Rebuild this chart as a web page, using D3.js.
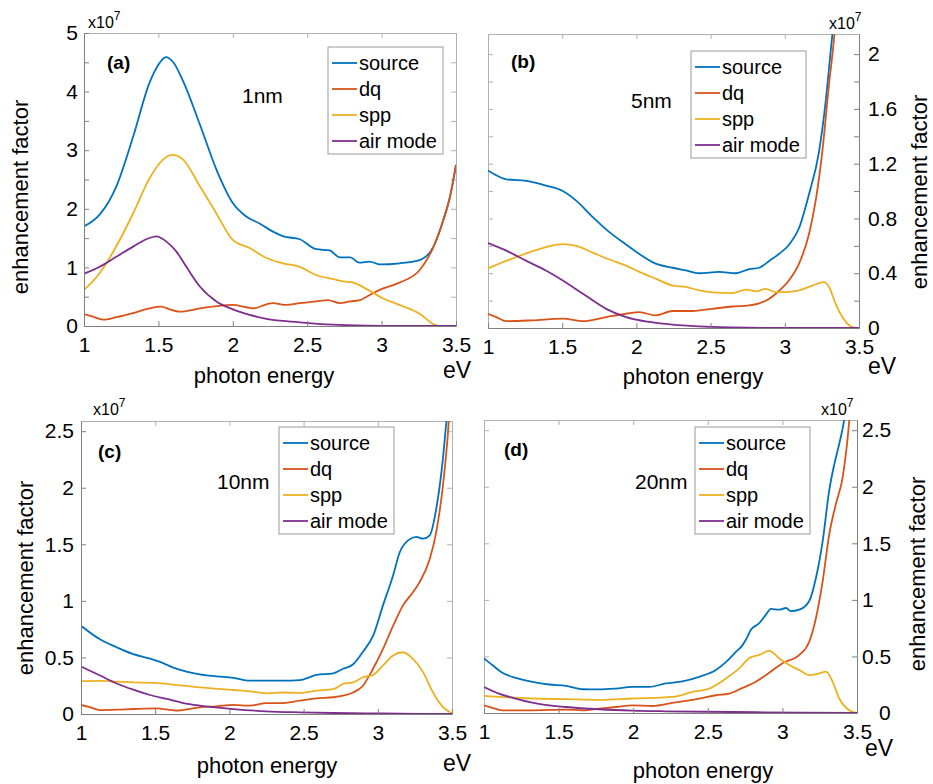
<!DOCTYPE html>
<html>
<head>
<meta charset="utf-8">
<script src="https://cdn.jsdelivr.net/npm/d3@7"></script>
<style>
  body { margin: 0; background: #fff; }
  text { font-family: "Liberation Sans", Arial, sans-serif; fill: #000; }
  .axis path, .axis line { stroke: #808080; }
  .frame path, .frame line { stroke: #b0b0b0; }
</style>
</head>
<body>
<svg id="fig" width="933" height="784"></svg>
<script>
// series names and MATLAB default colours
var seriesNames = ["source", "dq", "spp", "air mode"];
var seriesColors = ["#0072BD", "#D95319", "#EDB120", "#7E2F8E"];

// tick labels
var xLabels = [1, 1.5, 2, 2.5, 3, 3.5];
var yLabelsA = [0, 1, 2, 3, 4, 5];
var yLabelsB = [0, 0.4, 0.8, 1.2, 1.6, 2];
var yLabelsC = [0, 0.5, 1, 1.5, 2, 2.5];
var yLabelsD = [0, 0.5, 1, 1.5, 2, 2.5];

// (a) 1nm  [photon energy eV, enhancement x1e7]
var aSource = [[1.0,1.70],[1.105,1.90],[1.217,2.38],[1.33,3.23],[1.44,4.15],[1.50,4.46],[1.55,4.59],[1.60,4.50],[1.666,4.18],[1.78,3.43],[1.89,2.67],[2.0,2.10],[2.09,1.87],[2.18,1.75],[2.27,1.61],[2.34,1.53],[2.45,1.48],[2.56,1.31],[2.65,1.29],[2.72,1.17],[2.79,1.17],[2.85,1.08],[2.92,1.10],[2.99,1.05],[3.12,1.07],[3.26,1.13],[3.35,1.36],[3.415,1.81],[3.46,2.21],[3.5,2.75]];
var aDq = [[1.0,0.205],[1.06,0.16],[1.128,0.11],[1.217,0.15],[1.33,0.22],[1.44,0.30],[1.52,0.33],[1.576,0.285],[1.64,0.245],[1.78,0.30],[1.89,0.34],[2.0,0.36],[2.09,0.32],[2.137,0.30],[2.226,0.37],[2.27,0.39],[2.36,0.36],[2.45,0.39],[2.56,0.42],[2.64,0.44],[2.72,0.39],[2.79,0.42],[2.854,0.44],[2.90,0.50],[2.99,0.62],[3.12,0.74],[3.258,0.96],[3.35,1.36],[3.415,1.81],[3.46,2.21],[3.5,2.75]];
var aSpp = [[1.0,0.615],[1.105,0.90],[1.217,1.36],[1.33,1.92],[1.44,2.52],[1.531,2.84],[1.594,2.92],[1.666,2.84],[1.78,2.38],[1.89,1.92],[2.0,1.47],[2.114,1.33],[2.226,1.16],[2.339,1.07],[2.45,1.01],[2.56,0.87],[2.675,0.80],[2.742,0.76],[2.81,0.74],[2.90,0.63],[3.01,0.47],[3.12,0.36],[3.258,0.205],[3.35,0.03],[3.39,0],[3.5,0]];
var aAir = [[1.0,0.89],[1.105,1.01],[1.217,1.18],[1.33,1.355],[1.419,1.48],[1.487,1.53],[1.554,1.44],[1.621,1.27],[1.688,1.01],[1.78,0.67],[1.89,0.42],[2.0,0.285],[2.114,0.19],[2.226,0.12],[2.45,0.063],[2.675,0.023],[2.9,0.006],[3.12,0],[3.5,0]];

// (b) 5nm
var bSource = [[1.0,1.15],[1.123,1.086],[1.258,1.074],[1.39,1.04],[1.504,1.0],[1.594,0.93],[1.706,0.81],[1.818,0.70],[1.93,0.61],[2.02,0.54],[2.13,0.47],[2.244,0.44],[2.334,0.42],[2.424,0.40],[2.558,0.41],[2.67,0.40],[2.76,0.43],[2.827,0.44],[2.895,0.49],[2.96,0.54],[3.03,0.61],[3.096,0.73],[3.164,0.98],[3.231,1.29],[3.276,1.66],[3.309,2.02],[3.335,2.3]];
var bDq = [[1.0,0.104],[1.056,0.08],[1.123,0.05],[1.30,0.056],[1.504,0.068],[1.64,0.05],[1.796,0.08],[1.93,0.104],[2.02,0.116],[2.13,0.092],[2.244,0.124],[2.379,0.124],[2.51,0.14],[2.648,0.157],[2.76,0.165],[2.827,0.18],[2.895,0.213],[2.96,0.27],[3.03,0.35],[3.096,0.47],[3.164,0.69],[3.208,0.93],[3.253,1.29],[3.298,1.78],[3.332,2.12],[3.345,2.3]];
var bSpp = [[1.0,0.436],[1.123,0.49],[1.258,0.545],[1.39,0.59],[1.504,0.613],[1.594,0.60],[1.706,0.55],[1.818,0.50],[1.93,0.456],[2.02,0.41],[2.13,0.36],[2.244,0.31],[2.334,0.30],[2.424,0.274],[2.513,0.26],[2.648,0.255],[2.738,0.28],[2.805,0.268],[2.872,0.286],[2.94,0.262],[3.007,0.262],[3.096,0.275],[3.186,0.31],[3.265,0.335],[3.298,0.30],[3.343,0.177],[3.388,0.08],[3.455,0.007],[3.5,0]];
var bAir = [[1.0,0.62],[1.123,0.565],[1.258,0.49],[1.39,0.42],[1.504,0.347],[1.64,0.25],[1.796,0.14],[1.93,0.08],[2.09,0.044],[2.244,0.024],[2.424,0.012],[2.648,0.005],[3.1,0],[3.5,0]];

// (c) 10nm
var cSource = [[1.0,0.78],[1.128,0.66],[1.24,0.59],[1.352,0.53],[1.465,0.49],[1.532,0.46],[1.622,0.41],[1.711,0.375],[1.80,0.35],[1.913,0.333],[2.026,0.32],[2.138,0.295],[2.25,0.295],[2.362,0.295],[2.474,0.30],[2.587,0.345],[2.70,0.36],[2.766,0.40],[2.834,0.44],[2.90,0.55],[2.968,0.69],[3.035,0.96],[3.103,1.225],[3.148,1.43],[3.204,1.535],[3.26,1.565],[3.305,1.55],[3.35,1.58],[3.394,1.815],[3.439,2.26],[3.46,2.55],[3.473,2.7]];
var cDq = [[1.0,0.08],[1.06,0.06],[1.128,0.035],[1.24,0.038],[1.352,0.044],[1.51,0.05],[1.64,0.03],[1.80,0.059],[1.913,0.068],[2.026,0.08],[2.138,0.074],[2.25,0.097],[2.362,0.097],[2.474,0.118],[2.587,0.139],[2.70,0.148],[2.766,0.162],[2.834,0.19],[2.90,0.25],[2.968,0.40],[3.035,0.575],[3.103,0.78],[3.17,0.96],[3.237,1.077],[3.282,1.166],[3.35,1.37],[3.394,1.61],[3.439,2.02],[3.473,2.49],[3.484,2.7]];
var cSpp = [[1.0,0.29],[1.128,0.292],[1.24,0.286],[1.352,0.28],[1.51,0.275],[1.622,0.26],[1.80,0.236],[2.026,0.212],[2.138,0.20],[2.25,0.183],[2.362,0.19],[2.474,0.186],[2.587,0.207],[2.70,0.22],[2.766,0.266],[2.834,0.28],[2.90,0.325],[2.968,0.345],[3.035,0.43],[3.103,0.517],[3.17,0.546],[3.237,0.487],[3.305,0.37],[3.372,0.19],[3.44,0.06],[3.5,0.005]];
var cAir = [[1.0,0.42],[1.128,0.34],[1.24,0.27],[1.352,0.215],[1.465,0.168],[1.577,0.133],[1.689,0.097],[1.80,0.074],[2.026,0.044],[2.25,0.024],[2.474,0.015],[2.70,0.009],[2.92,0.006],[3.148,0.003],[3.5,0]];

// (d) 20nm
var dSource = [[1.0,0.483],[1.056,0.424],[1.123,0.356],[1.212,0.311],[1.324,0.276],[1.436,0.252],[1.548,0.24],[1.66,0.21],[1.771,0.208],[1.883,0.216],[1.995,0.231],[2.107,0.231],[2.219,0.261],[2.33,0.28],[2.442,0.32],[2.554,0.38],[2.621,0.45],[2.688,0.54],[2.733,0.60],[2.755,0.647],[2.789,0.735],[2.845,0.795],[2.89,0.87],[2.923,0.92],[2.979,0.913],[3.024,0.928],[3.057,0.90],[3.113,0.913],[3.18,0.99],[3.225,1.195],[3.27,1.52],[3.314,1.97],[3.348,2.20],[3.381,2.38],[3.415,2.6],[3.425,2.7]];
var dDq = [[1.0,0.068],[1.056,0.045],[1.123,0.024],[1.324,0.024],[1.548,0.03],[1.66,0.024],[1.771,0.039],[1.883,0.053],[1.995,0.068],[2.129,0.062],[2.263,0.089],[2.442,0.127],[2.554,0.157],[2.644,0.172],[2.733,0.222],[2.822,0.276],[2.89,0.335],[3.001,0.44],[3.113,0.513],[3.18,0.63],[3.225,0.84],[3.27,1.165],[3.314,1.58],[3.359,1.85],[3.404,2.085],[3.449,2.6],[3.455,2.7]];
var dSpp = [[1.0,0.151],[1.1,0.142],[1.324,0.128],[1.548,0.122],[1.771,0.116],[1.995,0.128],[2.263,0.142],[2.398,0.187],[2.51,0.216],[2.621,0.305],[2.71,0.394],[2.777,0.483],[2.845,0.513],[2.912,0.549],[2.979,0.483],[3.046,0.424],[3.113,0.38],[3.18,0.335],[3.247,0.35],[3.292,0.365],[3.337,0.276],[3.381,0.128],[3.449,0.024],[3.5,0]];
var dAir = [[1.0,0.23],[1.1,0.172],[1.212,0.128],[1.324,0.092],[1.436,0.068],[1.548,0.053],[1.771,0.033],[1.995,0.021],[2.219,0.015],[2.666,0.009],[3.113,0.003],[3.5,0]];

// panel layout
var panels = [
  { id: "a", tag: "(a)", size: "1nm", series: [aSource, aDq, aSpp, aAir], yLabels: yLabelsA, ymax: 5, ystep: 0.5,
    left: 84, right: 456, top: 33, bottom: 326, side: "left", pad: 6, zeroShift: 0,
    tagXY: [107, 69], sizeXY: [242, 103], legXY: [328, 47], expXY: [88, 28], eVXY: [443, 378],
    yTitle: [28, 197], xTitle: [264, 383] },
  { id: "b", tag: "(b)", size: "5nm", series: [bSource, bDq, bSpp, bAir], yLabels: yLabelsB, ymax: 2.147, ystep: 0.2,
    left: 488, right: 859, top: 34, bottom: 328, side: "right", pad: 9, zeroShift: 0,
    tagXY: [511, 68], sizeXY: [631, 108], legXY: [691, 51], expXY: [829, 29], eVXY: [868, 374],
    yTitle: [927, 192], xTitle: [693, 384] },
  { id: "c", tag: "(c)", size: "10nm", series: [cSource, cDq, cSpp, cAir], yLabels: yLabelsC, ymax: 2.59, ystep: 0.5,
    left: 81, right: 452, top: 421, bottom: 714, side: "left", pad: 7, zeroShift: 0,
    tagXY: [98, 458], sizeXY: [217, 489], legXY: [279, 427], expXY: [93, 415], eVXY: [443, 771],
    yTitle: [33, 578], xTitle: [267, 773] },
  { id: "d", tag: "(d)", size: "20nm", series: [dSource, dDq, dSpp, dAir], yLabels: yLabelsD, ymax: 2.59, ystep: 0.5,
    left: 484, right: 857, top: 420, bottom: 713, side: "right", pad: 5, zeroShift: 17,
    tagXY: [504, 456], sizeXY: [635, 489], legXY: [695, 427], expXY: [821, 415], eVXY: [865, 756],
    yTitle: [925, 574], xTitle: [703, 778] }
];

var svg = d3.select("#fig");
var fmt = d3.format("~g");

function styleAxis(g) {
  g.attr("font-family", null).attr("font-size", null);
  g.selectAll("text").attr("font-size", 21).style("fill", "#000");
}

panels.forEach(function (p) {
  var x = d3.scaleLinear().domain([1, 3.5]).range([p.left, p.right]);
  var y = d3.scaleLinear().domain([0, p.ymax]).range([p.bottom, p.top]);
  var yTicks = d3.range(0, p.ymax + 1e-6, p.ystep).map(function (v) { return Math.round(v * 100) / 100; });
  var isLabel = function (v) { return p.yLabels.some(function (l) { return Math.abs(l - v) < 1e-6; }); };

  var g = svg.append("g").attr("class", "panel-" + p.id);

  // frame sides (top and opposite) with inward ticks
  g.append("g").attr("class", "frame").attr("transform", "translate(0," + p.top + ")")
    .call(d3.axisTop(x).tickValues(xLabels).tickSize(-5).tickSizeOuter(0).tickFormat(""));
  var ySideFrame = p.side === "left" ? d3.axisRight(y) : d3.axisLeft(y);
  g.append("g").attr("class", "frame").attr("transform", "translate(" + (p.side === "left" ? p.right : p.left) + ",0)")
    .call(ySideFrame.tickValues(yTicks).tickSize(-5).tickSizeOuter(0).tickFormat(""));

  // clip for the curves
  g.append("clipPath").attr("id", "clip-" + p.id).append("rect")
    .attr("x", p.left).attr("y", p.top).attr("width", p.right - p.left).attr("height", p.bottom - p.top);

  var line = d3.line().curve(d3.curveMonotoneX)
    .x(function (d) { return x(d[0]); })
    .y(function (d) { return y(d[1]); });

  g.append("g").attr("clip-path", "url(#clip-" + p.id + ")")
    .selectAll("path").data(p.series).enter().append("path")
    .attr("d", line)
    .attr("fill", "none")
    .attr("stroke", function (d, i) { return seriesColors[i]; })
    .attr("stroke-width", 1.8);

  // main axes
  g.append("g").attr("class", "axis").attr("transform", "translate(0," + p.bottom + ")")
    .call(d3.axisBottom(x).tickValues(xLabels).tickSize(-5).tickSizeOuter(0).tickPadding(11).tickFormat(fmt))
    .call(styleAxis);
  var yAxis = p.side === "left" ? d3.axisLeft(y) : d3.axisRight(y);
  var yg = g.append("g").attr("class", "axis").attr("transform", "translate(" + (p.side === "left" ? p.left : p.right) + ",0)")
    .call(yAxis.tickValues(yTicks).tickSize(-5).tickSizeOuter(0).tickPadding(p.pad)
      .tickFormat(function (v) { return isLabel(v) ? fmt(v) : ""; }))
    .call(styleAxis);
  // zero label in (d) sits further right, clear of the x tick label
  if (p.zeroShift) {
    yg.selectAll(".tick text").filter(function (d) { return d === 0; })
      .attr("x", p.pad + p.zeroShift);
  }

  // legend
  var leg = g.append("g").attr("transform", "translate(" + p.legXY[0] + "," + p.legXY[1] + ")");
  leg.append("rect").attr("width", 115).attr("height", 107)
    .attr("fill", "#fff").attr("stroke", "#9a9a9a").attr("stroke-width", 1);
  seriesNames.forEach(function (name, i) {
    var yy = 16 + i * 26;
    leg.append("line").attr("x1", 4).attr("x2", 29).attr("y1", yy).attr("y2", yy)
      .attr("stroke", seriesColors[i]).attr("stroke-width", 1.8);
    leg.append("text").attr("x", 31).attr("y", yy).attr("dy", "0.35em")
      .attr("font-size", 20).text(name);
  });

  // annotations
  g.append("text").attr("x", p.tagXY[0]).attr("y", p.tagXY[1])
    .attr("font-size", 19).attr("font-weight", "bold").text(p.tag);
  g.append("text").attr("x", p.sizeXY[0]).attr("y", p.sizeXY[1])
    .attr("font-size", 21).text(p.size);

  var ex = g.append("text").attr("x", p.expXY[0]).attr("y", p.expXY[1]).attr("font-size", 16);
  ex.append("tspan").text("x10");
  ex.append("tspan").attr("font-size", 12).attr("dy", -8).text("7");

  g.append("text").attr("x", p.eVXY[0]).attr("y", p.eVXY[1]).attr("font-size", 23).text("eV");

  g.append("text").attr("x", p.xTitle[0]).attr("y", p.xTitle[1])
    .attr("text-anchor", "middle").attr("font-size", 22).text("photon energy");
  g.append("text").attr("transform", "translate(" + p.yTitle[0] + "," + p.yTitle[1] + ") rotate(-90)")
    .attr("text-anchor", "middle").attr("font-size", 22).text("enhancement factor");
});
</script>
</body>
</html>
